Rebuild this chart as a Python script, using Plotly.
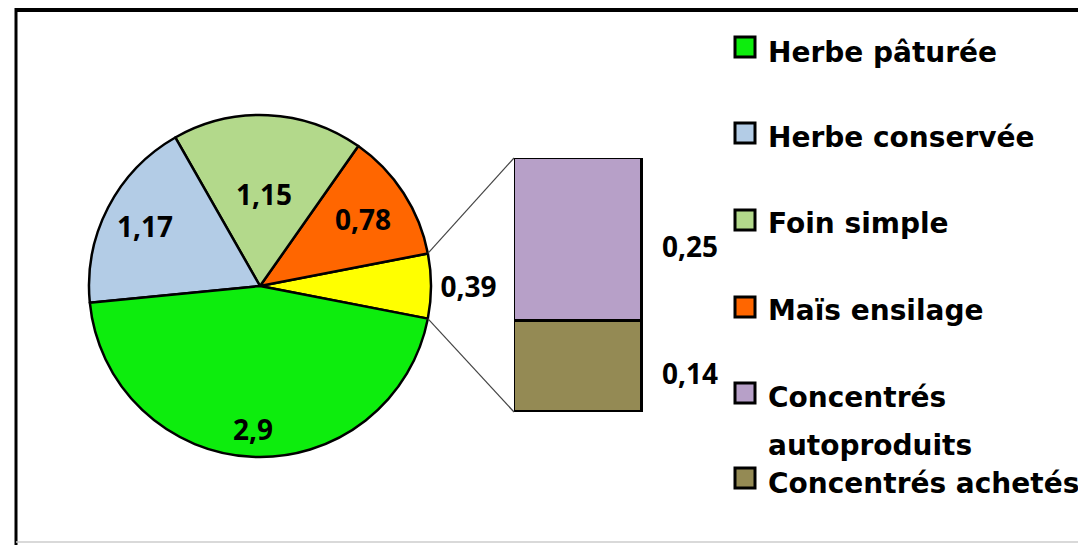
import math
import plotly.graph_objects as go

# ---- data ----
pie_labels = ["Concentrés", "Maïs ensilage", "Foin simple", "Herbe conservée", "Herbe pâturée"]
pie_values = [0.39, 0.78, 1.15, 1.17, 2.9]
pie_colors = ["#ffff00", "#ff6600", "#b3d98b", "#b3cce6", "#0ded0d"]

bar_labels = ["Concentrés achetés", "Concentrés autoproduits"]
bar_values = [0.14, 0.25]
bar_colors = ["#948a54", "#b7a0c8"]

legend_labels = ["Herbe pâturée", "Herbe conservée", "Foin simple", "Maïs ensilage",
                 "Concentrés<br>autoproduits", "Concentrés achetés"]
legend_colors = ["#0ded0d", "#b3cce6", "#b3d98b", "#ff6600", "#b7a0c8", "#948a54"]

# label placement (style): radial fraction of pie radius for inside labels (None = plotly outside label)
label_radius = [None, 0.72, 0.54, 0.76, 0.84]

OFF = 8  # page body margin
W, H = 1086 - OFF, 545 - OFF
def px(x): return (x - OFF) / W
def py(y): return 1 - (y - OFF) / H

def fmt(v):
    return ("%g" % v).replace(".", ",")

LABEL_FONT = dict(family="Open Sans", size=28, color="black", weight="bold")

# pie geometry (page pixels)
cx, cy, R = 260, 286, 171
start_deg = -11  # math angle where the first slice starts
total = sum(pie_values)
first_span = 360 * pie_values[0] / total
rotation = 90 - (start_deg + first_span)  # plotly: counterclockwise first slice ends at rotation
pie_dom_x = [px(cx - R), px(cx + R)]
pie_dom_y = [py(cy + R), py(cy - R)]

# bar axes geometry
bar_left, bar_right, bar_top, bar_bot = 514, 642, 158, 412
xaxis_right = 720
x_range = [-0.5, -0.5 + (xaxis_right - bar_left) / (bar_right - bar_left)]

fig = go.Figure()

fig.add_trace(go.Pie(
    labels=pie_labels, values=pie_values, sort=False, direction="counterclockwise",
    rotation=rotation, domain=dict(x=pie_dom_x, y=pie_dom_y),
    marker=dict(colors=pie_colors, line=dict(color="black", width=2.5)),
    texttemplate=["%{value}" if r is None else "" for r in label_radius],
    textposition=["outside" if r is None else "inside" for r in label_radius],
    insidetextorientation="horizontal",
    textfont=LABEL_FONT,
    showlegend=False, hoverinfo="label+value",
))

# inside pie labels, placed on each slice's bisector
ang = start_deg
for val, rf in zip(pie_values, label_radius):
    span = 360 * val / total
    mid = math.radians(ang + span / 2)
    ang += span
    if rf is None:
        continue
    lx = cx + rf * R * math.cos(mid)
    ly = cy - rf * R * math.sin(mid)
    fig.add_annotation(x=px(lx), y=py(ly), xref="paper", yref="paper", text=fmt(val),
                       showarrow=False, xanchor="center", yanchor="middle", font=LABEL_FONT)

for lab, val, col in zip(bar_labels, bar_values, bar_colors):
    fig.add_trace(go.Bar(
        x=[0], y=[val], width=1, name=lab, marker=dict(color=col, line=dict(color="black", width=3)),
        showlegend=False, xaxis="x", yaxis="y",
    ))

# bar value labels
cum = 0
total_bar = sum(bar_values)
for val in bar_values:
    mid = cum + val / 2
    cum += val
    fig.add_annotation(x=0.875, y=mid, xref="x", yref="y", text=fmt(val), showarrow=False,
                       yshift=-7, font=LABEL_FONT)

# connector lines from the 'Concentrés' slice to the bar
a0 = math.radians(start_deg)
a1 = a0 + math.radians(first_span)
p_hi = (cx + R * math.cos(a1), cy - R * math.sin(a1))
p_lo = (cx + R * math.cos(a0), cy - R * math.sin(a0))
shapes = [
    dict(type="line", xref="paper", yref="paper", x0=px(p_hi[0]), y0=py(p_hi[1]),
         x1=px(bar_left), y1=py(bar_top), line=dict(color="#444444", width=1.2)),
    dict(type="line", xref="paper", yref="paper", x0=px(p_lo[0]), y0=py(p_lo[1]),
         x1=px(bar_left), y1=py(bar_bot), line=dict(color="#444444", width=1.2)),
]

# frame
shapes += [
    dict(type="line", xref="paper", yref="paper", x0=px(15), y0=py(10), x1=px(1100), y1=py(10),
         line=dict(color="black", width=4)),
    dict(type="line", xref="paper", yref="paper", x0=px(16), y0=py(8), x1=px(16), y1=py(560),
         line=dict(color="black", width=3)),
    dict(type="line", xref="paper", yref="paper", x0=px(16), y0=py(542), x1=px(1100), y1=py(542),
         line=dict(color="#cccccc", width=1.5)),
]

# legend
sq_y = [47, 133, 220, 307, 393, 478]
txt_y = [53, 138, 223, 310, 397, 483]
line_gap = 48
for lab, col, sy, ty in zip(legend_labels, legend_colors, sq_y, txt_y):
    shapes.append(dict(type="rect", xref="paper", yref="paper", x0=px(735), x1=px(755),
                       y0=py(sy + 10), y1=py(sy - 10), fillcolor=col,
                       line=dict(color="black", width=3)))
    for k, part in enumerate(lab.split("<br>")):
        fig.add_annotation(x=px(766), y=py(ty + k * line_gap), xref="paper", yref="paper",
                           text=part, showarrow=False, xanchor="left", yanchor="middle",
                           align="left",
                           font=dict(family="DejaVu Sans", size=28, color="black", weight="bold"))

fig.update_layout(
    width=W, height=H, margin=dict(l=0, r=0, t=0, b=0),
    paper_bgcolor="white", plot_bgcolor="white",
    separators=", ", barmode="stack", bargap=0,
    xaxis=dict(domain=[px(bar_left), px(xaxis_right)], range=x_range, visible=False, fixedrange=True),
    yaxis=dict(domain=[py(bar_bot), py(bar_top)], range=[0, total_bar], visible=False, fixedrange=True),
    shapes=shapes, showlegend=False,
)

fig.write_html("out.html")
